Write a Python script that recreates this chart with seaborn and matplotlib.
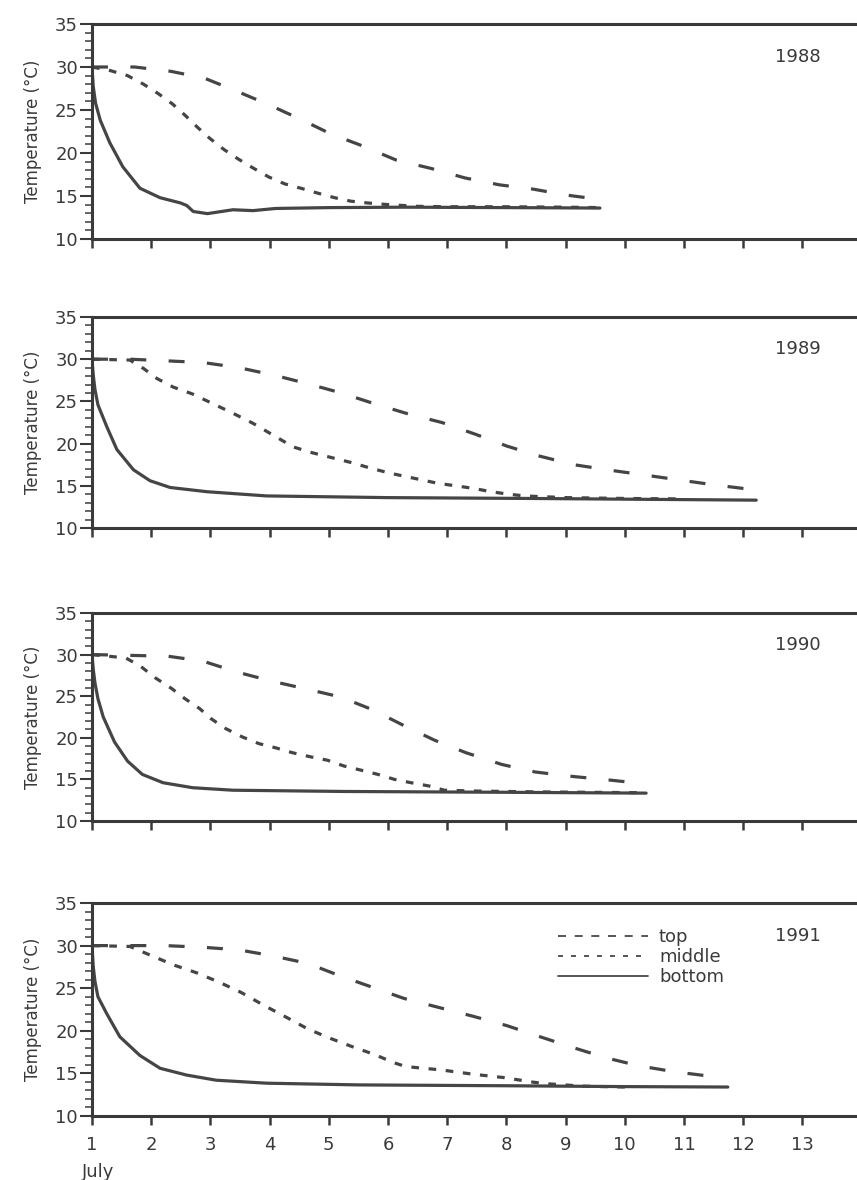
import pandas as pd
import seaborn as sns
import matplotlib.pyplot as plt
from matplotlib.lines import Line2D
from matplotlib.ticker import MultipleLocator

years = ["1988", "1989", "1990", "1991"]
layers = ["top", "middle", "bottom"]
day_ticks = list(range(1, 14))
temp_ticks = [10, 15, 20, 25, 30, 35]

# 1988
top_day_1988 = [1.0, 1.72, 2.33, 2.90, 3.44, 3.99, 4.53, 5.04, 5.58, 6.13, 6.73, 7.30, 7.88, 8.45, 9.02, 9.58]
top_temp_1988 = [30.0, 30.0, 29.5, 28.7, 27.2, 25.6, 23.9, 22.2, 20.8, 19.2, 18.2, 17.1, 16.3, 15.8, 15.1, 14.6]
mid_day_1988 = [1.0, 1.30, 1.60, 1.87, 2.12, 2.36, 2.57, 2.78, 2.99, 3.23, 3.47, 3.71, 3.99, 4.26,
                4.53, 4.83, 5.10, 5.37, 5.64, 6.0, 6.5, 7.0, 8.0, 9.0, 9.58]
mid_temp_1988 = [30.0, 29.6, 29.0, 28.0, 26.9, 25.7, 24.4, 23.0, 21.7, 20.4, 19.3, 18.3, 17.2, 16.4,
                 15.9, 15.3, 14.8, 14.4, 14.2, 14.0, 13.8, 13.75, 13.75, 13.7, 13.65]
bot_day_1988 = [1.0, 1.02, 1.06, 1.14, 1.30, 1.52, 1.81, 2.15, 2.49, 2.60, 2.71, 2.95, 3.38, 3.72, 4.10,
                5.0, 6.3, 8.0, 9.58]
bot_temp_1988 = [30.0, 27.8, 25.8, 23.8, 21.2, 18.4, 15.9, 14.8, 14.2, 13.9, 13.2, 12.95, 13.4, 13.3, 13.55,
                 13.65, 13.7, 13.65, 13.6]

# 1989
top_day_1989 = [1.0, 1.64, 2.28, 2.88, 3.48, 4.08, 4.64, 5.21, 5.78, 6.35, 6.91, 7.48, 8.01, 8.57,
                9.14, 9.70, 10.31, 10.91, 11.52, 12.22]
top_temp_1989 = [30.0, 30.0, 29.8, 29.6, 29.0, 28.1, 27.1, 26.0, 24.7, 23.5, 22.5, 21.1, 19.7, 18.5,
                 17.5, 16.9, 16.3, 15.7, 15.1, 14.5]
mid_day_1989 = [1.0, 1.64, 1.87, 2.10, 2.37, 2.69, 2.99, 3.38, 3.72, 4.06, 4.40, 4.73, 5.07, 5.41,
                5.70, 6.03, 6.30, 6.57, 6.84, 7.14, 7.44, 7.74, 8.04, 8.31, 9.0, 10.0, 10.9]
mid_temp_1989 = [30.0, 29.9, 28.9, 27.7, 26.7, 25.9, 24.9, 23.6, 22.4, 21.0, 19.6, 18.9, 18.3, 17.7,
                 17.1, 16.5, 16.1, 15.7, 15.3, 15.0, 14.7, 14.3, 14.0, 13.8, 13.6, 13.5, 13.45]
bot_day_1989 = [1.0, 1.02, 1.05, 1.10, 1.25, 1.42, 1.70, 1.98, 2.32, 2.94, 3.95, 6.0, 8.4, 12.22]
bot_temp_1989 = [30.0, 28.2, 26.4, 24.6, 22.0, 19.3, 16.9, 15.6, 14.8, 14.3, 13.8, 13.6, 13.5, 13.3]

# 1990
top_day_1990 = [1.0, 1.69, 2.29, 2.88, 3.45, 4.04, 4.60, 5.20, 5.73, 6.26, 6.79, 7.32, 7.92, 8.48,
                9.05, 9.64, 10.3]
top_temp_1990 = [30.0, 29.9, 29.8, 29.2, 27.9, 26.8, 25.9, 24.9, 23.4, 21.5, 19.7, 18.2, 16.8, 15.9,
                 15.4, 15.0, 14.5]
mid_day_1990 = [1.0, 1.57, 1.82, 2.07, 2.35, 2.57, 2.82, 3.01, 3.26, 3.54, 3.82, 4.10, 4.39, 4.70,
                4.98, 5.26, 5.55, 5.83, 6.11, 6.39, 6.70, 6.95, 7.5, 8.5, 10.3]
mid_temp_1990 = [30.0, 29.6, 28.6, 27.2, 25.9, 24.7, 23.5, 22.3, 21.1, 20.1, 19.3, 18.8, 18.2, 17.7,
                 17.3, 16.6, 16.1, 15.6, 15.0, 14.6, 14.2, 13.7, 13.6, 13.5, 13.4]
bot_day_1990 = [1.0, 1.02, 1.05, 1.10, 1.19, 1.38, 1.60, 1.85, 2.20, 2.70, 3.38, 5.26, 8.0, 10.36]
bot_temp_1990 = [30.0, 28.3, 26.6, 24.7, 22.5, 19.5, 17.2, 15.6, 14.6, 14.0, 13.7, 13.55, 13.45, 13.35]

# 1991
top_day_1991 = [1.0, 1.64, 2.24, 2.88, 3.48, 4.05, 4.65, 5.17, 5.74, 6.27, 6.88, 7.44, 8.01, 8.57,
                9.14, 9.70, 10.23, 10.83, 11.52]
top_temp_1991 = [30.0, 30.0, 30.0, 29.8, 29.5, 28.8, 27.9, 26.5, 25.1, 23.8, 22.7, 21.7, 20.6, 19.3,
                 18.0, 16.8, 15.9, 15.2, 14.6]
mid_day_1991 = [1.0, 1.64, 2.01, 2.39, 2.77, 3.15, 3.52, 3.90, 4.28, 4.65, 5.03, 5.41, 5.78, 6.08,
                6.30, 6.91, 7.44, 7.97, 8.42, 8.65, 9.3, 10.0]
mid_temp_1991 = [30.0, 29.9, 28.8, 27.7, 26.8, 25.7, 24.5, 23.0, 21.6, 20.2, 19.1, 18.1, 17.2, 16.3,
                 15.8, 15.4, 14.9, 14.5, 14.0, 13.8, 13.5, 13.4]
bot_day_1991 = [1.0, 1.02, 1.05, 1.10, 1.25, 1.47, 1.81, 2.15, 2.60, 3.10, 3.95, 5.5, 8.0, 10.0, 11.74]
bot_temp_1991 = [30.0, 27.6, 25.8, 24.0, 22.0, 19.3, 17.1, 15.6, 14.8, 14.2, 13.85, 13.65, 13.55, 13.45, 13.4]

series = {
    "1988": [(top_day_1988, top_temp_1988), (mid_day_1988, mid_temp_1988), (bot_day_1988, bot_temp_1988)],
    "1989": [(top_day_1989, top_temp_1989), (mid_day_1989, mid_temp_1989), (bot_day_1989, bot_temp_1989)],
    "1990": [(top_day_1990, top_temp_1990), (mid_day_1990, mid_temp_1990), (bot_day_1990, bot_temp_1990)],
    "1991": [(top_day_1991, top_temp_1991), (mid_day_1991, mid_temp_1991), (bot_day_1991, bot_temp_1991)],
}

sns.set_theme(style="ticks")
plt.rcParams["font.family"] = ["DejaVu Sans"]

ink = "#3a3a3a"
line_ink = "#454545"
line_dashes = {"top": (5.0, 7.0), "middle": (2.4, 3.0), "bottom": ""}

W, H = 857, 1180
panel_px = [(24, 239), (317, 528), (613, 821), (903, 1116)]  # top / bottom edge in pixels
left_px = 92

fig = plt.figure(figsize=(W / 100, H / 100), dpi=100)

for i, year in enumerate(years):
    top, bot = panel_px[i]
    ax = fig.add_axes([left_px / W, 1 - bot / H, 1 - left_px / W, (bot - top) / H])

    frames = []
    for layer, (days, temps) in zip(layers, series[year]):
        frames.append(pd.DataFrame({"day": days, "temp": temps, "layer": layer}))
    df = pd.concat(frames, ignore_index=True)

    sns.lineplot(data=df, x="day", y="temp", style="layer", style_order=layers,
                 dashes=line_dashes, color=line_ink, linewidth=2.3,
                 estimator=None, legend=False, ax=ax)

    ax.set_xlim(1, 1 + (W - left_px) / 59.2)
    ax.set_ylim(10, 35)
    ax.set_xticks(day_ticks)
    ax.set_yticks(temp_ticks)
    ax.yaxis.set_minor_locator(MultipleLocator(1))

    ax.spines["right"].set_visible(False)
    for side in ["left", "top", "bottom"]:
        ax.spines[side].set_linewidth(2.2)
        ax.spines[side].set_color(ink)

    ax.tick_params(axis="y", which="major", direction="out", length=8.6, width=1.5,
                   pad=1.5, labelsize=13, colors=ink)
    ax.tick_params(axis="y", which="minor", direction="out", length=5, width=1.1, color=ink)
    ax.tick_params(axis="x", which="major", direction="out", length=6.5, width=1.8,
                   pad=8, labelsize=13, colors=ink, labelbottom=(i == len(years) - 1))

    ax.set_xlabel("")
    ax.set_ylabel("Temperature (°C)", fontsize=12, color=ink, labelpad=9)
    ax.text(0.923, 0.846, year, transform=ax.transAxes, ha="center", va="center",
            fontsize=13, color=ink)

    if i == len(years) - 1:
        handles = [Line2D([], [], color=ink, lw=1.2, dashes=(4.8, 5.2)),
                   Line2D([], [], color=ink, lw=1.2, dashes=(3.0, 4.8)),
                   Line2D([], [], color=ink, lw=1.2)]
        leg = ax.legend(handles, layers, loc="center left", bbox_to_anchor=(0.609, 0.746),
                        frameon=False, fontsize=13, handlelength=5.0, handletextpad=0.6,
                        labelspacing=0.12, borderpad=0, borderaxespad=0)
        for t in leg.get_texts():
            t.set_color(ink)
        ax.annotate("July", xy=(1, 0), xycoords=("data", "axes fraction"),
                    xytext=(-7, -40), textcoords="offset points",
                    ha="left", va="center", fontsize=13, color=ink)

fig.savefig("out.png", dpi=100)
